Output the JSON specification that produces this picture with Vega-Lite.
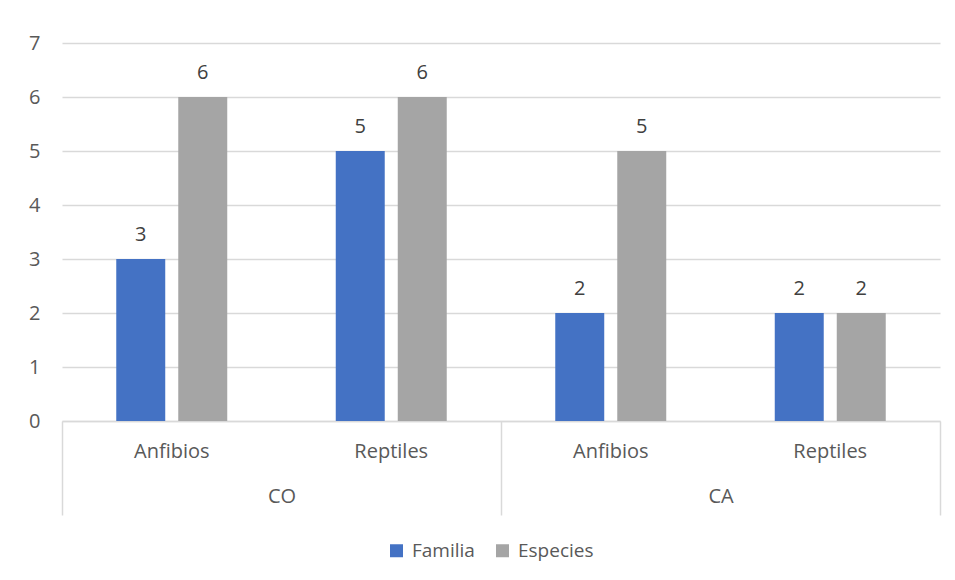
{
  "$schema": "https://vega.github.io/schema/vega-lite/v6.json",
  "width": 878,
  "height": 378,
  "autosize": {"type": "none"},
  "padding": {"top": 43, "left": 62, "right": 15, "bottom": 159},
  "background": "white",
  "config": {
    "view": {"stroke": null},
    "font": "Open Sans",
    "axis": {"labelFont": "Open Sans", "labelFontSize": 20, "labelColor": "#595959"},
    "legend": {"labelFont": "Open Sans", "labelFontSize": 19, "labelColor": "#595959"}
  },
  "layer": [
    {
      "data": {
        "values": [
          {"cat": "CO|Anfibios", "series": "Familia", "value": 3},
          {"cat": "CO|Anfibios", "series": "Especies", "value": 6},
          {"cat": "CO|Reptiles", "series": "Familia", "value": 5},
          {"cat": "CO|Reptiles", "series": "Especies", "value": 6},
          {"cat": "CA|Anfibios", "series": "Familia", "value": 2},
          {"cat": "CA|Anfibios", "series": "Especies", "value": 5},
          {"cat": "CA|Reptiles", "series": "Familia", "value": 2},
          {"cat": "CA|Reptiles", "series": "Especies", "value": 2}
        ]
      },
      "encoding": {
        "x": {
          "field": "cat",
          "type": "nominal",
          "sort": ["CO|Anfibios", "CO|Reptiles", "CA|Anfibios", "CA|Reptiles"],
          "scale": {"paddingInner": 0, "paddingOuter": 0},
          "axis": {
            "orient": "bottom",
            "title": null,
            "labelAngle": 0,
            "ticks": false,
            "domain": true,
            "domainColor": "#D9D9D9",
            "domainWidth": 1.5,
            "labelPadding": 20,
            "labelBaseline": "top",
            "labelExpr": "split(datum.value, '|')[1]"
          }
        },
        "xOffset": {
          "field": "series",
          "type": "nominal",
          "sort": ["Familia", "Especies"],
          "scale": {"paddingInner": 0.21, "paddingOuter": 0.875}
        },
        "y": {
          "field": "value",
          "type": "quantitative",
          "scale": {"domain": [0, 7]},
          "axis": {
            "title": null,
            "values": [0, 1, 2, 3, 4, 5, 6, 7],
            "domain": false,
            "ticks": false,
            "labelPadding": 22,
            "gridColor": "#D9D9D9",
            "gridWidth": 1.5
          }
        }
      },
      "layer": [
        {
          "mark": {"type": "bar"},
          "encoding": {
            "color": {
              "field": "series",
              "type": "nominal",
              "sort": ["Familia", "Especies"],
              "scale": {"domain": ["Familia", "Especies"], "range": ["#4472C4", "#A5A5A5"]},
              "legend": {
                "title": null,
                "orient": "none",
                "legendX": 325,
                "legendY": 498,
                "direction": "horizontal",
                "symbolType": "square",
                "symbolSize": 169,
                "symbolStrokeWidth": 0,
                "columnPadding": 18,
                "labelOffset": 6
              }
            }
          }
        },
        {
          "mark": {"type": "text", "baseline": "bottom", "dy": -14, "fontSize": 20, "color": "#404040", "font": "Open Sans"},
          "encoding": {"text": {"field": "value", "type": "quantitative"}}
        }
      ]
    },
    {
      "data": {"values": [{"group": "CO"}, {"group": "CA"}]},
      "mark": {"type": "point", "opacity": 0},
      "encoding": {
        "x": {
          "field": "group",
          "type": "nominal",
          "sort": ["CO", "CA"],
          "scale": {"paddingInner": 0, "paddingOuter": 0},
          "axis": {
            "orient": "bottom",
            "title": null,
            "labelAngle": 0,
            "domain": false,
            "ticks": true,
            "tickBand": "extent",
            "tickSize": 94,
            "tickColor": "#D9D9D9",
            "tickWidth": 1.5,
            "labelPadding": -29,
            "labelBaseline": "top"
          }
        }
      }
    }
  ],
  "resolve": {"scale": {"x": "independent"}, "axis": {"x": "independent"}}
}
